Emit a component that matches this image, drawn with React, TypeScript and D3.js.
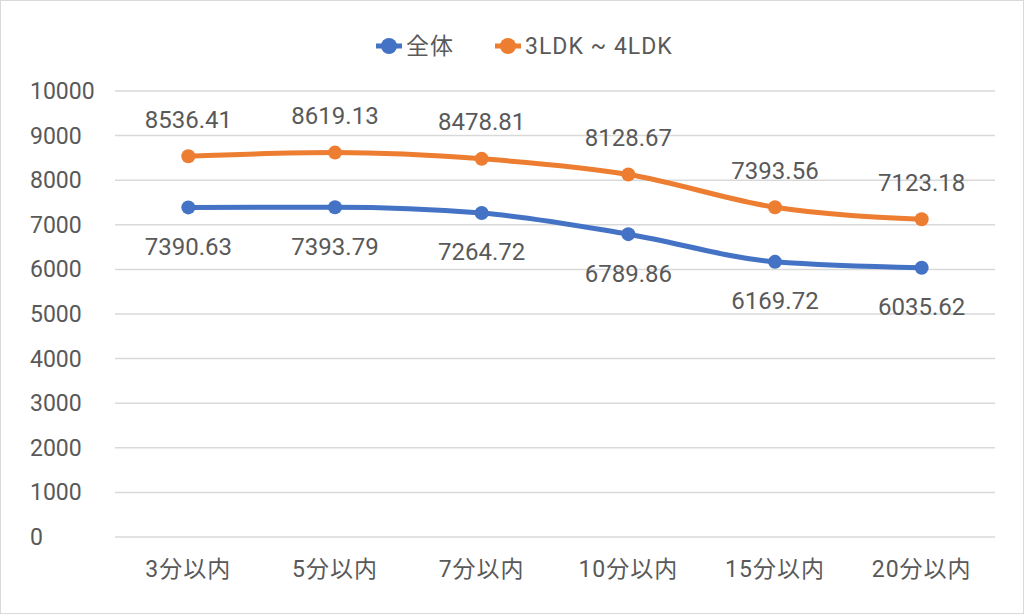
import React from "react";
import * as d3 from "d3";

const categories = ["3分以内", "5分以内", "7分以内", "10分以内", "15分以内", "20分以内"];
const allValues = [7390.63, 7393.79, 7264.72, 6789.86, 6169.72, 6035.62];
const ldkValues = [8536.41, 8619.13, 8478.81, 8128.67, 7393.56, 7123.18];
const yTicks = [0, 1000, 2000, 3000, 4000, 5000, 6000, 7000, 8000, 9000, 10000];

const W = 1024;
const H = 614;
const FONT = "Roboto, 'Noto Sans CJK JP', sans-serif";
const TEXT = "#595959";

export default function App() {
  const x = d3.scaleBand().domain(categories).range([115, 995]);
  const y = d3.scaleLinear().domain([0, 10000]).range([537, 91]);
  const cx = (c: string) => (x(c) as number) + x.bandwidth() / 2;

  const line = d3
    .line<number>()
    .x((d, i) => cx(categories[i]))
    .y(d => y(d))
    .curve(d3.curveMonotoneX);

  const series = [
    { name: "全体", values: allValues, color: "#4472c4", dy: 39 },
    { name: "3LDK ~ 4LDK", values: ldkValues, color: "#ed7d31", dy: -37 }
  ];

  return (
    <svg
      width={W}
      height={H}
      style={{ position: "absolute", left: 0, top: 0, background: "#fff" }}
      fontFamily={FONT}
    >
      <rect x={0.5} y={0.5} width={W - 1} height={H - 1} fill="#fff" stroke="#d9d9d9" />
      {yTicks.map(t => (
        <g key={t}>
          <line x1={115} x2={995} y1={y(t)} y2={y(t)} stroke="#d9d9d9" strokeWidth={1.5} />
          <text x={30} y={y(t)} dy="0.35em" fontSize={23} fill={TEXT}>
            {t}
          </text>
        </g>
      ))}
      {categories.map(c => (
        <text key={c} x={cx(c)} y={569} dy="0.35em" textAnchor="middle" fontSize={23} letterSpacing={1} fill={TEXT}>
          {c}
        </text>
      ))}
      {series.map(s => (
        <g key={s.name}>
          <path d={line(s.values) || ""} fill="none" stroke={s.color} strokeWidth={5} strokeLinecap="round" />
          {s.values.map((v, i) => (
            <g key={i}>
              <circle cx={cx(categories[i])} cy={y(v)} r={7} fill={s.color} />
              <text
                x={cx(categories[i])}
                y={y(v) + s.dy}
                dy="0.35em"
                textAnchor="middle"
                fontSize={24}
                fill={TEXT}
              >
                {v.toFixed(2)}
              </text>
            </g>
          ))}
        </g>
      ))}
      {series.map((s, i) => {
        const lx = i === 0 ? 389 : 508;
        return (
          <g key={s.name}>
            <line x1={lx - 13} x2={lx + 13} y1={46} y2={46} stroke={s.color} strokeWidth={5} />
            <circle cx={lx} cy={46} r={8} fill={s.color} />
            <text x={lx + 17} y={46} dy="0.35em" fontSize={23} letterSpacing={1} fill={TEXT}>
              {s.name}
            </text>
          </g>
        );
      })}
    </svg>
  );
}
